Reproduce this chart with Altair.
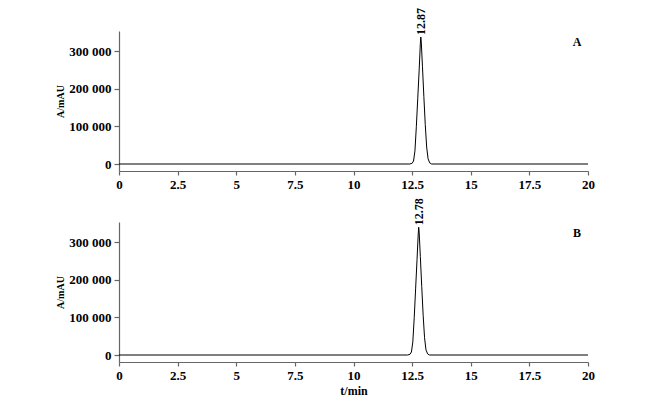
import altair as alt
import pandas as pd

# ---- data ----
time_A = [0, 12.40, 12.50, 12.56, 12.62, 12.68, 12.74, 12.80, 12.85, 12.87, 12.89,
          12.94, 13.00, 13.06, 13.12, 13.18, 13.25, 13.33, 20]
abs_A = [0, 0, 2000, 8000, 35000, 100000, 175000, 250000, 320000, 338000, 325000,
         260000, 180000, 105000, 45000, 14000, 3000, 0, 0]

time_B = [0, 12.31, 12.41, 12.47, 12.53, 12.59, 12.65, 12.71, 12.76, 12.78, 12.80,
          12.85, 12.91, 12.97, 13.03, 13.09, 13.16, 13.24, 20]
abs_B = [0, 0, 2000, 8000, 35000, 100000, 178000, 255000, 322000, 340000, 327000,
         262000, 182000, 106000, 46000, 14000, 3000, 0, 0]

peak_time = {"A": 12.87, "B": 12.78}
peak_height = {"A": 338000, "B": 340000}
panels = ["A", "B"]

x_ticks = [0, 2.5, 5, 7.5, 10, 12.5, 15, 17.5, 20]
y_ticks = [0, 100000, 200000, 300000]

FONT = "Liberation Serif"
W, H = 469, 140
Y_DOMAIN = [-18600, 354000]


def panel(name, times, values, show_xtitle):
    df = pd.DataFrame({"t": times, "A": values})
    x_axis = alt.Axis(values=x_ticks, format=".1~f", labelFlush=False, labelOverlap=False,
                      grid=False, tickSize=4, labelPadding=3,
                      title="t/min" if show_xtitle else None, titlePadding=3)
    y_axis = alt.Axis(values=y_ticks, labelFlush=False, labelOverlap=False,
                      grid=False, tickSize=5, labelPadding=3,
                      labelExpr="replace(format(datum.value, ','), ',', ' ')",
                      title="A/mAU", titleFontSize=10, titlePadding=3)
    line = alt.Chart(df).mark_line(color="black", strokeWidth=1).encode(
        x=alt.X("t:Q", scale=alt.Scale(domain=[0, 20], nice=False, zero=False), axis=x_axis),
        y=alt.Y("A:Q", scale=alt.Scale(domain=Y_DOMAIN, nice=False, zero=False), axis=y_axis),
    )
    pk = pd.DataFrame({"t": [peak_time[name]], "A": [peak_height[name]],
                       "lab": [f"{peak_time[name]:.2f}"]})
    peak_lab = alt.Chart(pk).mark_text(angle=270, align="left", baseline="middle",
                                       dx=2, font=FONT, fontSize=12, fontWeight="bold",
                                       color="black").encode(
        x="t:Q", y="A:Q", text="lab:N")
    let = pd.DataFrame({"lab": [name]})
    letter = alt.Chart(let).mark_text(font=FONT, fontSize=12, fontWeight="bold",
                                      color="black").encode(
        x=alt.value(458), y=alt.value(11), text="lab:N")
    return alt.layer(line, peak_lab, letter).properties(width=W, height=H)


chart = alt.vconcat(
    panel("A", time_A, abs_A, False),
    panel("B", time_B, abs_B, True),
    spacing=51, bounds="flush",
).properties(
    padding={"left": 47, "top": 0, "right": 5, "bottom": 5}
).configure_view(stroke=None).configure_axis(
    domainColor="#666666", tickColor="#666666", domainWidth=1.2, tickWidth=1.2,
    labelFont=FONT, labelFontSize=13, labelFontWeight="bold", labelColor="black",
    titleFont=FONT, titleFontSize=12, titleFontWeight="bold", titleColor="black",
)

chart.save("out.html", embed_options={"renderer": "svg", "actions": False})
